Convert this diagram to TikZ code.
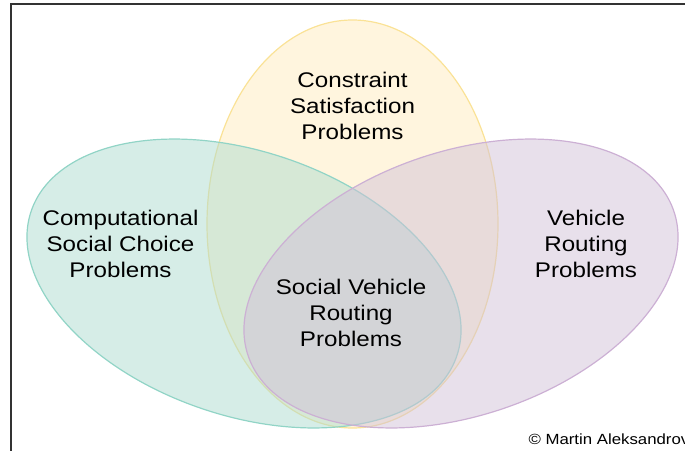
\documentclass[tikz,border=0pt]{standalone}
\usepackage{fontspec}
\usepackage{tikz}
\newfontfamily\vennfont[FakeStretch=1.14]{Liberation Sans}
\tikzset{every picture/.style={line width=0.75pt}}
\tikzset{
  setlabel/.style={inner sep=0.75pt, align=center, font={\vennfont\fontsize{15.9}{19.7}\selectfont}},
}

\begin{document}
\begin{tikzpicture}[x=0.75pt,y=0.75pt,yscale=-1,xscale=1]
\useasboundingbox (0,0) rectangle (685,450);

%Shape: Rectangle [frame]
\draw [color={rgb, 255:red, 51; green, 51; blue, 51 }, draw opacity=1, line width=1.5pt] (11,4) rectangle (700,470) ;
%Shape: Ellipse [csp]
\draw [color={rgb, 255:red, 250; green, 226; blue, 150 }, draw opacity=1, fill={rgb, 255:red, 255; green, 235; blue, 189 }, fill opacity=0.5, line width=0.9pt] (207,224) .. controls (207,111.33) and (272.14,20) .. (352.5,20) .. controls (432.86,20) and (498,111.33) .. (498,224) .. controls (498,336.67) and (432.86,428) .. (352.5,428) .. controls (272.14,428) and (207,336.67) .. (207,224) -- cycle ;
%Shape: Ellipse [comsoc]
\draw [color={rgb, 255:red, 145; green, 212; blue, 198 }, draw opacity=1, fill={rgb, 255:red, 173; green, 219; blue, 207 }, fill opacity=0.5, line width=0.9pt, rotate around={18.8:(244,283.5)}] (19.2,283.5) .. controls (19.2,210.6) and (119.84,151.5) .. (244,151.5) .. controls (368.16,151.5) and (468.8,210.6) .. (468.8,283.5) .. controls (468.8,356.4) and (368.16,415.5) .. (244,415.5) .. controls (119.84,415.5) and (19.2,356.4) .. (19.2,283.5) -- cycle ;
%Shape: Ellipse [vrp]
\draw [color={rgb, 255:red, 204; green, 176; blue, 212 }, draw opacity=1, fill={rgb, 255:red, 209; green, 193; blue, 215 }, fill opacity=0.5, line width=0.9pt, rotate around={-18.8:(461,283.5)}] (236.2,283.5) .. controls (236.2,210.6) and (336.84,151.5) .. (461,151.5) .. controls (585.16,151.5) and (685.8,210.6) .. (685.8,283.5) .. controls (685.8,356.4) and (585.16,415.5) .. (461,415.5) .. controls (336.84,415.5) and (236.2,356.4) .. (236.2,283.5) -- cycle ;

\draw (352.5,106) node (csplabel) [setlabel] {Constraint\\Satisfaction\\Problems};
\draw (120.5,244) node (comsoclabel) [setlabel] {Computational\\Social Choice\\Problems};
\draw (586,244) node (vrplabel) [setlabel] {Vehicle\\Routing\\Problems};
\draw (351,313) node (svrplabel) [setlabel] {Social Vehicle\\Routing\\Problems};
\draw (528,444) node (credit) [anchor=base west, inner sep=0pt, font={\vennfont\fontsize{11.05}{13}\selectfont}] {© Martin Aleksandrov};
\end{tikzpicture}
\end{document}
